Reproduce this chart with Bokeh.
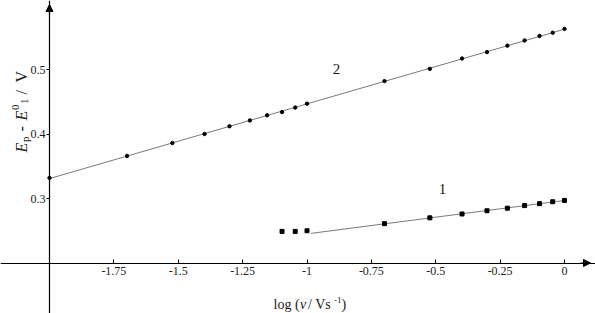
import numpy as np
from bokeh.plotting import figure
from bokeh.models import Range1d, FixedTicker, Arrow, NormalHead, ColumnDataSource
from bokeh.core.properties import value
from bokeh.embed import file_html
from bokeh.resources import INLINE

# ---- data ----
scan_rate_2 = [0.01, 0.02, 0.03, 0.04, 0.05, 0.06, 0.07, 0.08, 0.09, 0.1,
               0.2, 0.3, 0.4, 0.5, 0.6, 0.7, 0.8, 0.9, 1.0]
E_2 = [0.332, 0.366, 0.386, 0.400, 0.412, 0.421, 0.429, 0.434, 0.441, 0.447,
       0.482, 0.501, 0.517, 0.527, 0.537, 0.545, 0.552, 0.557, 0.563]
scan_rate_1 = [0.08, 0.09, 0.1, 0.2, 0.3, 0.4, 0.5, 0.6, 0.7, 0.8, 0.9, 1.0]
E_1 = [0.249, 0.249, 0.250, 0.261, 0.270, 0.276, 0.281, 0.285, 0.289, 0.292, 0.295, 0.297]
fit_1_min_rate = 0.2          # linear fit of curve 1 uses points from this rate up
fit_1_span = [-0.985, 0.0]    # log range over which fit line 1 is drawn
fit_2_span = [-2.0, 0.0]
x_ticks = [-1.75, -1.5, -1.25, -1.0, -0.75, -0.5, -0.25, 0.0]
x_tick_labels = ["-1.75", "-1.5", "-1.25", "-1", "-0.75", "-0.5", "-0.25", "0"]
y_ticks = [0.3, 0.4, 0.5]
y_tick_labels = ["0.3", "0.4", "0.5"]
curve_names = ["1", "2"]

# ---- layout constants ----
W, H = 595, 313
PX_X = 257.5   # px per unit x
PX_Y = 645.0   # px per unit y
X0_PX, Y0_PX = 49.0, 262.5   # pixel position of axis crossing (-2, 0.2)
x_lo = -2 - X0_PX / PX_X
x_hi = -2 + (W - X0_PX) / PX_X
y_hi = 0.2 + Y0_PX / PX_Y
y_lo = 0.2 - (H - Y0_PX) / PX_Y

def px_x(px):
    return -2 + (px - X0_PX) / PX_X

def px_y(py):
    return 0.2 + (Y0_PX - py) / PX_Y

SERIF = "Liberation Serif"
INK = "#1a1a1a"

p = figure(width=W, height=H, x_range=Range1d(x_lo, x_hi), y_range=Range1d(y_lo, y_hi),
           output_backend="svg", toolbar_location=None, min_border=0)
p.outline_line_color = None
p.grid.visible = False
p.background_fill_color = "white"
p.border_fill_color = "white"

# axes crossing at (-2, 0.2)
p.xaxis.fixed_location = 0.2
p.yaxis.fixed_location = -2.0
for ax in (p.xaxis, p.yaxis):
    ax.axis_line_color = "black"
    ax.axis_line_width = 1.2
    ax.major_tick_line_color = "black"
    ax.minor_tick_line_color = None
    ax.major_label_text_font = SERIF
    ax.major_label_text_font_size = "12px"
    ax.major_label_text_color = INK
p.xaxis.ticker = FixedTicker(ticks=x_ticks)
p.xaxis.major_label_overrides = dict(zip(x_ticks, x_tick_labels))
p.xaxis.major_tick_in = 4
p.xaxis.major_tick_out = 0
p.xaxis.major_label_standoff = 4
p.yaxis.ticker = FixedTicker(ticks=y_ticks)
p.yaxis.major_label_overrides = dict(zip(y_ticks, y_tick_labels))
p.yaxis.major_tick_in = 0
p.yaxis.major_tick_out = 3
p.yaxis.major_label_standoff = 1

# arrow heads
p.add_layout(Arrow(end=NormalHead(size=7, fill_color="black", line_color="black"),
                   x_start=px_x(580), y_start=0.2, x_end=px_x(590), y_end=0.2,
                   line_color="black", line_width=1.2))
p.add_layout(Arrow(end=NormalHead(size=7, fill_color="black", line_color="black"),
                   x_start=-2.0, y_start=px_y(14), x_end=-2.0, y_end=px_y(4),
                   line_color="black", line_width=1.2))

# fits
lx2 = np.log10(scan_rate_2)
k2, b2 = np.polyfit(lx2, E_2, 1)
lx1 = np.log10(scan_rate_1)
mask = np.array(scan_rate_1) >= fit_1_min_rate
k1, b1 = np.polyfit(lx1[mask], np.array(E_1)[mask], 1)

p.line(fit_2_span, [k2 * x + b2 for x in fit_2_span], line_color="#7a7a7a", line_width=1)
p.line(fit_1_span, [k1 * x + b1 for x in fit_1_span], line_color="#7a7a7a", line_width=1)

p.scatter(lx2, E_2, marker="circle", size=3.4, color="black")
p.scatter(lx1, E_1, marker="square", size=4, color="black")

# curve labels
p.text(x=[px_x(442), px_x(336)], y=[px_y(188), px_y(68)], text=curve_names,
       text_font=value(SERIF), text_font_size="15px", text_color=INK,
       text_align="center", text_baseline="middle")

# x axis label: log (ν / Vs-1)
bx, by = 273, 304
xoffs = [0, 26.5, 34.5, 60.5, 68]
xl = ColumnDataSource(dict(
    x=[px_x(bx + o) for o in xoffs],
    y=[px_y(by), px_y(by), px_y(by), px_y(by - 5), px_y(by)],
    text=["log (", "ν", " / Vs", "-1", ")"],
    style=["normal", "italic", "normal", "normal", "normal"],
    size=["14px", "14px", "14px", "9px", "14px"],
))
p.text(x="x", y="y", text="text", source=xl, text_font=value(SERIF),
       text_font_style="style", text_font_size="size", text_color=INK,
       text_align="left", text_baseline="alphabetic")

# y axis label: Ep - E01 / V (rotated, reading upward)
ax0, ay0 = 21, 152
yoffs = [0, 10.5, 21, 32, 42.5, 48.5, 58, 70]
ydx = [0, 3, 0, 0, -6, 3, 0, 0]
yl = ColumnDataSource(dict(
    x=[px_x(ax0 + d) for d in ydx],
    y=[px_y(ay0 - o) for o in yoffs],
    text=["E", "p", "-", "E", "0", "1", "/", "V"],
    style=["italic", "normal", "normal", "italic", "normal", "normal", "normal", "normal"],
    size=["16px", "11px", "16px", "16px", "11px", "11px", "16px", "16px"],
))
p.text(x="x", y="y", text="text", source=yl, angle=np.pi / 2, text_font=value(SERIF),
       text_font_style="style", text_font_size="size", text_color=INK,
       text_align="left", text_baseline="alphabetic")

open("out.html", "w").write(file_html(p, INLINE))
